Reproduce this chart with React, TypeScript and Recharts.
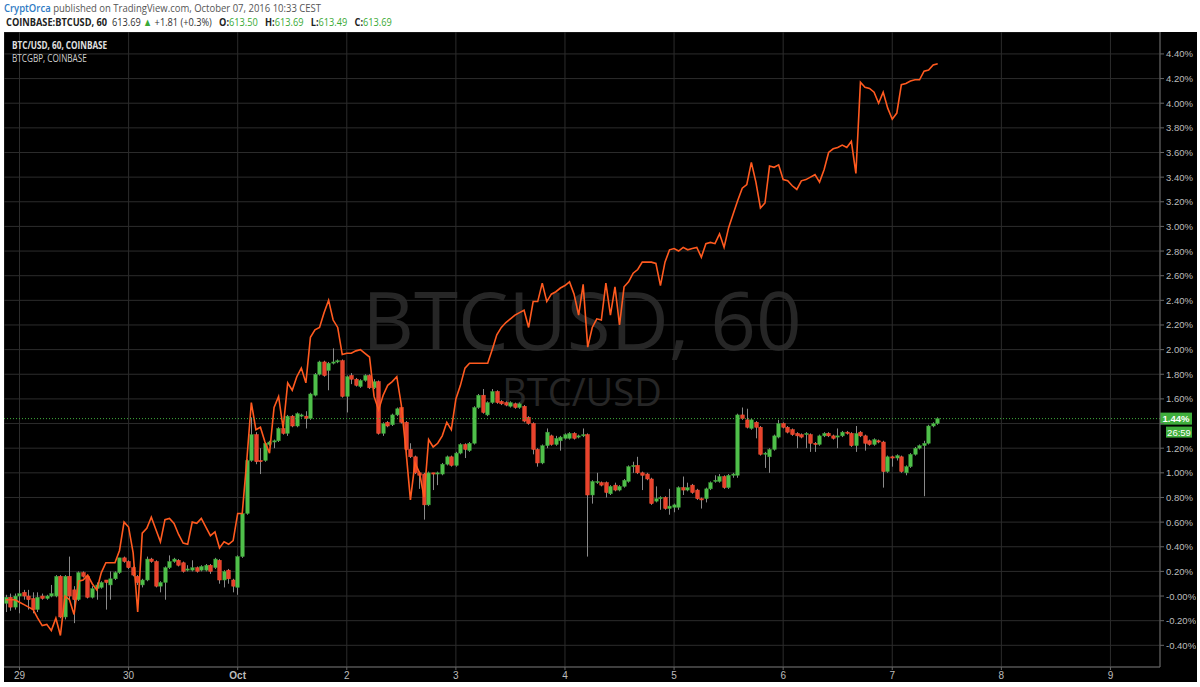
import React from "react";
import {
  ComposedChart, Bar, Line, XAxis, YAxis, CartesianGrid, ReferenceLine
} from "recharts";

// hourly candles, first one is Sep 28 21:00 (hour 0 = Sep 29 00:00)
const START_HOUR = -3;
const DAY_TICKS = [0, 24, 48, 72, 96, 120, 144, 168, 192, 216, 240];
const DAY_LABELS = ["29", "30", "Oct", "2", "3", "4", "5", "6", "7", "8", "9"];
const PCT_TICKS = [-0.4, -0.2, 0, 0.2, 0.4, 0.6, 0.8, 1.0, 1.2, 1.4, 1.6, 1.8, 2.0, 2.2, 2.4, 2.6, 2.8, 3.0, 3.2, 3.4, 3.6, 3.8, 4.0, 4.2, 4.4];
const LAST_PCT = 1.44;
const COUNTDOWN = "26:59";

// BTCUSD change in % : [open, close, high, low]
const CANDLES = [
  [-0.06, -0.01, 0.01, -0.13], [-0.01, -0.09, 0.02, -0.12], [-0.09, 0.0, 0.02, -0.11],
  [0.0, 0.02, 0.13, -0.14], [0.03, 0.0, 0.05, -0.03], [0.0, -0.03, 0.05, -0.11],
  [-0.02, -0.11, 0.03, -0.14], [-0.11, -0.01, 0.03, -0.13], [0.0, -0.02, 0.02, -0.03],
  [-0.02, 0.0, 0.01, -0.03], [0.0, 0.02, 0.09, -0.01], [0.0, 0.16, 0.17, -0.01],
  [0.16, -0.17, 0.17, -0.18], [-0.17, 0.16, 0.17, -0.19], [0.16, 0.0, 0.32, -0.03],
  [0.05, -0.03, 0.08, -0.22], [-0.03, 0.19, 0.2, -0.04], [0.19, 0.16, 0.2, 0.15],
  [0.16, -0.01, 0.17, -0.02], [-0.01, 0.06, 0.08, -0.02], [0.06, 0.09, 0.11, -0.03],
  [0.07, 0.11, 0.12, 0.06], [0.13, 0.11, 0.13, -0.11], [0.09, 0.14, 0.2, -0.03],
  [0.14, 0.19, 0.2, 0.13], [0.19, 0.31, 0.31, 0.18], [0.31, 0.28, 0.32, 0.27],
  [0.28, 0.23, 0.29, 0.22], [0.23, 0.17, 0.24, 0.16], [0.16, 0.11, 0.17, 0.09],
  [0.09, 0.13, 0.14, 0.07], [0.13, 0.3, 0.32, 0.12], [0.3, 0.28, 0.31, 0.27],
  [0.28, 0.08, 0.29, 0.07], [0.08, 0.11, 0.12, 0.03], [0.11, 0.23, 0.24, -0.03],
  [0.23, 0.28, 0.33, 0.22], [0.28, 0.3, 0.31, 0.27], [0.29, 0.25, 0.3, 0.24],
  [0.27, 0.2, 0.28, 0.19], [0.21, 0.22, 0.25, 0.2], [0.21, 0.23, 0.29, 0.2],
  [0.23, 0.2, 0.24, 0.19], [0.21, 0.24, 0.25, 0.2], [0.21, 0.25, 0.26, 0.2],
  [0.25, 0.2, 0.26, 0.18], [0.23, 0.3, 0.31, 0.22], [0.29, 0.13, 0.3, 0.1],
  [0.13, 0.2, 0.21, 0.07], [0.21, 0.14, 0.22, 0.1], [0.13, 0.08, 0.14, 0.03],
  // Oct 1
  [0.07, 0.32, 0.33, 0.01], [0.32, 0.67, 0.68, 0.31], [0.67, 1.1, 1.11, 0.66],
  [1.1, 1.31, 1.45, 1.09], [1.31, 1.09, 1.33, 1.07], [1.1, 1.09, 1.2, 0.99],
  [1.1, 1.24, 1.25, 1.09], [1.23, 1.25, 1.26, 1.22], [1.25, 1.26, 1.27, 1.2],
  [1.26, 1.36, 1.37, 1.25], [1.36, 1.32, 1.37, 1.31], [1.32, 1.46, 1.47, 1.3],
  [1.46, 1.38, 1.47, 1.37], [1.38, 1.48, 1.49, 1.37], [1.46, 1.47, 1.48, 1.45],
  [1.46, 1.44, 1.5, 1.36], [1.44, 1.64, 1.65, 1.43], [1.63, 1.8, 1.81, 1.62],
  [1.8, 1.9, 1.91, 1.79], [1.9, 1.79, 1.91, 1.78], [1.83, 1.89, 1.9, 1.67],
  [1.89, 1.9, 2.01, 1.88], [1.9, 1.91, 1.92, 1.89], [1.91, 1.62, 1.92, 1.61],
  [1.62, 1.78, 1.79, 1.49], [1.79, 1.76, 1.81, 1.72], [1.76, 1.71, 1.77, 1.7],
  [1.7, 1.75, 1.76, 1.69], [1.75, 1.79, 1.8, 1.74], [1.79, 1.69, 1.8, 1.68],
  [1.69, 1.74, 1.76, 1.68], [1.74, 1.32, 1.75, 1.31], [1.32, 1.4, 1.41, 1.3],
  [1.41, 1.38, 1.42, 1.37], [1.39, 1.47, 1.48, 1.38], [1.47, 1.52, 1.53, 1.46],
  [1.53, 1.41, 1.54, 1.4], [1.41, 1.19, 1.42, 1.18], [1.19, 1.13, 1.24, 1.12],
  [1.13, 1.0, 1.14, 0.99], [1.0, 0.98, 1.01, 0.87], [0.99, 0.74, 1.0, 0.62],
  [0.74, 1.0, 1.01, 0.73], [1.0, 0.99, 1.0, 0.86], [0.99, 1.0, 1.01, 0.9],
  [0.99, 1.07, 1.08, 0.98], [1.07, 1.13, 1.14, 1.06], [1.13, 1.06, 1.14, 1.05],
  [1.06, 1.16, 1.17, 1.05], [1.16, 1.23, 1.24, 1.15], [1.23, 1.19, 1.24, 1.12],
  [1.18, 1.24, 1.25, 1.17], [1.24, 1.53, 1.54, 1.23], [1.53, 1.63, 1.64, 1.52],
  [1.63, 1.49, 1.68, 1.48], [1.47, 1.57, 1.58, 1.46], [1.57, 1.66, 1.68, 1.56],
  [1.66, 1.57, 1.67, 1.56], [1.58, 1.56, 1.59, 1.55], [1.57, 1.55, 1.58, 1.54],
  [1.54, 1.57, 1.58, 1.53], [1.56, 1.53, 1.57, 1.52], [1.53, 1.56, 1.57, 1.52],
  [1.54, 1.42, 1.55, 1.41], [1.45, 1.4, 1.46, 1.39], [1.4, 1.19, 1.41, 1.15],
  [1.19, 1.08, 1.2, 1.05], [1.08, 1.22, 1.23, 1.07], [1.22, 1.33, 1.36, 1.2],
  [1.3, 1.23, 1.31, 1.22], [1.23, 1.28, 1.3, 1.22], [1.26, 1.29, 1.3, 1.18],
  [1.28, 1.31, 1.32, 1.27], [1.28, 1.32, 1.33, 1.27], [1.32, 1.28, 1.33, 1.27],
  [1.29, 1.3, 1.31, 1.28], [1.3, 1.31, 1.36, 1.29], [1.31, 0.82, 1.32, 0.32],
  [0.82, 0.93, 0.94, 0.75], [0.92, 0.93, 1.0, 0.91], [0.92, 0.9, 0.93, 0.89],
  [0.92, 0.84, 0.93, 0.8], [0.83, 0.89, 0.9, 0.82], [0.9, 0.86, 0.92, 0.85],
  [0.86, 0.89, 0.9, 0.85], [0.89, 0.94, 0.95, 0.88], [0.93, 1.05, 1.06, 0.92],
  [1.05, 1.06, 1.09, 1.0], [1.06, 1.0, 1.13, 0.99], [1.0, 0.98, 1.01, 0.86],
  [0.99, 0.95, 1.0, 0.94], [0.95, 0.75, 0.96, 0.74], [0.77, 0.79, 0.89, 0.76],
  [0.79, 0.8, 0.81, 0.7], [0.8, 0.71, 0.81, 0.7], [0.71, 0.73, 0.87, 0.66],
  [0.72, 0.74, 0.75, 0.68], [0.72, 0.88, 0.89, 0.7], [0.88, 0.86, 0.97, 0.82],
  [0.86, 0.88, 0.92, 0.85], [0.9, 0.84, 0.91, 0.83], [0.86, 0.79, 0.87, 0.78],
  [0.79, 0.78, 0.8, 0.71], [0.79, 0.87, 0.88, 0.76], [0.87, 0.92, 0.93, 0.86],
  [0.93, 0.94, 0.98, 0.92], [0.93, 0.97, 0.99, 0.92], [0.97, 0.88, 0.98, 0.87],
  [0.88, 0.98, 0.99, 0.87], [0.98, 0.99, 1.0, 0.96], [0.98, 1.47, 1.48, 0.96],
  [1.47, 1.44, 1.53, 1.43], [1.43, 1.37, 1.52, 1.36], [1.36, 1.43, 1.44, 1.35],
  [1.41, 1.37, 1.42, 1.28], [1.37, 1.15, 1.38, 1.14], [1.15, 1.16, 1.17, 1.04],
  [1.13, 1.19, 1.2, 1.0], [1.19, 1.3, 1.31, 1.18], [1.29, 1.4, 1.43, 1.28],
  [1.4, 1.37, 1.41, 1.36], [1.37, 1.33, 1.38, 1.32], [1.35, 1.31, 1.36, 1.3],
  [1.32, 1.3, 1.33, 1.2], [1.31, 1.29, 1.32, 1.28], [1.31, 1.32, 1.33, 1.2],
  [1.31, 1.24, 1.32, 1.17], [1.24, 1.23, 1.25, 1.17], [1.23, 1.3, 1.31, 1.22],
  [1.3, 1.32, 1.33, 1.29], [1.32, 1.3, 1.33, 1.29], [1.3, 1.28, 1.31, 1.27],
  [1.29, 1.3, 1.36, 1.2], [1.3, 1.33, 1.34, 1.29], [1.33, 1.32, 1.34, 1.31],
  [1.32, 1.22, 1.33, 1.21], [1.22, 1.32, 1.38, 1.17], [1.33, 1.3, 1.34, 1.29],
  [1.3, 1.24, 1.31, 1.18], [1.26, 1.23, 1.27, 1.22], [1.23, 1.27, 1.28, 1.22],
  [1.26, 1.25, 1.27, 1.24], [1.25, 1.01, 1.26, 0.88], [1.01, 1.13, 1.14, 1.0],
  [1.13, 1.12, 1.14, 1.05], [1.12, 1.14, 1.15, 1.1], [1.13, 1.01, 1.14, 1.0],
  [1.0, 1.05, 1.06, 0.98], [1.05, 1.15, 1.16, 1.04], [1.15, 1.2, 1.21, 1.14],
  [1.2, 1.22, 1.23, 1.19], [1.22, 1.24, 1.26, 0.81], [1.24, 1.38, 1.39, 1.23],
  [1.38, 1.4, 1.41, 1.37], [1.4, 1.44, 1.45, 1.39],
];

// BTCGBP change in %, same hours
const GBP = [
  -0.03, -0.03, -0.03, -0.05, -0.07, -0.09, -0.11, -0.18, -0.24, -0.23,
  -0.28, -0.18, -0.32, 0.0, -0.03, -0.15, 0.12, 0.13, 0.17, 0.1,
  0.05, 0.19, 0.27, 0.27, 0.27, 0.37, 0.6, 0.56, 0.35, -0.13,
  0.51, 0.55, 0.64, 0.54, 0.44, 0.62, 0.63, 0.59, 0.5, 0.43,
  0.42, 0.6, 0.59, 0.63, 0.56, 0.49, 0.52, 0.39, 0.44, 0.42,
  0.45, 0.67, 0.67, 1.1, 1.57, 1.35, 1.37, 1.25, 1.16, 1.53,
  1.62, 1.36, 1.73, 1.67, 1.78, 1.85, 1.73, 2.1, 2.16, 2.18,
  2.3, 2.4, 2.24, 2.18, 1.96, 1.97, 1.97, 1.99, 2.0, 1.97,
  1.94, 1.62, 1.51, 1.63, 1.71, 1.74, 1.78, 1.55, 1.19, 0.78,
  1.08, 1.0, 0.8, 1.27, 1.21, 1.24, 1.3, 1.41, 1.35, 1.6,
  1.71, 1.85, 1.89, 1.89, 1.89, 1.89, 1.89, 2.0, 2.12, 2.18,
  2.22, 2.25, 2.28, 2.3, 2.32, 2.18, 2.39, 2.39, 2.54, 2.39,
  2.45, 2.47, 2.5, 2.52, 2.55, 2.45, 2.28, 2.53, 2.02, 2.18,
  2.25, 2.24, 2.54, 2.28, 2.51, 2.2, 2.51, 2.55, 2.62, 2.65,
  2.71, 2.71, 2.71, 2.7, 2.52, 2.71, 2.81, 2.82, 2.8, 2.83,
  2.81, 2.82, 2.83, 2.75, 2.86, 2.87, 2.86, 2.94, 2.83, 2.99,
  3.1, 3.21, 3.31, 3.34, 3.52, 3.36, 3.15, 3.19, 3.49, 3.48,
  3.5, 3.38, 3.37, 3.33, 3.3, 3.37, 3.38, 3.4, 3.42, 3.36,
  3.46, 3.6, 3.63, 3.64, 3.66, 3.64, 3.69, 3.43, 4.17, 4.13,
  4.12, 4.09, 4.0, 4.09, 3.96, 3.87, 3.92, 4.15, 4.16, 4.18,
  4.19, 4.19, 4.26, 4.27, 4.31, 4.32,
];

const UP = "#4fbf4a";
const DOWN = "#e8432d";
const WICK = "#8a8a8a";
const GBP_COLOR = "#ff5a1f";
const TAG = "#3fae3c";
const QUOTE_GREEN = "#3aaa35";
const AXIS_TEXT = "#bdbdbd";

const rows = CANDLES.map(([o, c, hi, lo], i) => ({
  t: START_HOUR + i,
  o,
  c,
  range: [Math.min(lo, o, c), Math.max(hi, o, c)],
  gbp: GBP[i],
}));

function Candle(props: any) {
  const { x, y, width, height, payload } = props;
  if (x == null || y == null) return null;
  const [lo, hi] = payload.range;
  const span = hi - lo || 1;
  const toY = (v: number) => y + ((hi - v) / span) * height;
  const cx = Math.round(x + width / 2) + 0.5;
  const up = payload.c >= payload.o;
  const top = toY(Math.max(payload.o, payload.c));
  const bot = toY(Math.min(payload.o, payload.c));
  return (
    <g>
      <line x1={cx} x2={cx} y1={y} y2={y + height} stroke={WICK} strokeWidth={1} />
      <rect
        x={cx - 1.75}
        y={top}
        width={3.5}
        height={Math.max(1, bot - top)}
        fill={up ? UP : DOWN}
        stroke={up ? "#3a9a36" : "#ff5533"}
        strokeWidth={0.5}
      />
    </g>
  );
}

function PctTick(props: any) {
  const { x, y, payload } = props;
  const v = payload.value;
  if (Math.abs(v - LAST_PCT) < 0.08) return null;
  const label = (v === 0 ? "-0.00" : v.toFixed(2)) + "%";
  return (
    <text x={x} y={y} dy={3.5} fill={AXIS_TEXT} fontSize={9.5}
      fontFamily="'Liberation Sans', Arial, sans-serif">
      {label}
    </text>
  );
}

function DayTick(props: any) {
  const { x, y, payload } = props;
  const label = DAY_LABELS[DAY_TICKS.indexOf(payload.value)];
  return (
    <text x={x} y={y} dy={8} textAnchor="middle" fill={AXIS_TEXT} fontSize={10}
      fontWeight={label === "Oct" ? "bold" : "normal"}
      fontFamily="'Liberation Sans', Arial, sans-serif">
      {label}
    </text>
  );
}

function PriceTag(props: any) {
  const { viewBox } = props;
  if (!viewBox) return null;
  const right = viewBox.x + viewBox.width;
  const y = viewBox.y;
  return (
    <g fontFamily="'Liberation Sans', Arial, sans-serif" fontSize={9.5} fontWeight="bold">
      <rect x={right} y={y - 6} width={32} height={12} fill={TAG} />
      <text x={right + 16} y={y + 3.5} textAnchor="middle" fill="#fff">{LAST_PCT.toFixed(2)}%</text>
      <rect x={right + 6} y={y + 8} width={26} height={11} fill={TAG} />
      <text x={right + 19} y={y + 17} textAnchor="middle" fill="#fff" fontWeight="normal">{COUNTDOWN}</text>
    </g>
  );
}

export default function App() {
  return (
    <div style={{ position: "relative", width: 1200, height: 687, background: "#fff", overflow: "hidden" }}>
      <style>{`body{margin:0}`}</style>

      {/* header, squeezed horizontally like the screenshot */}
      <svg width={1200} height={32} style={{ position: "absolute", left: 0, top: 0 }}
        fontFamily="'Open Sans', sans-serif" fontSize={11}>
        <g transform="translate(4,0) scale(0.865,1)">
          <text x={0} y={12} fill="#555">
            <tspan fill="#2f7bc4" fontWeight="600">CryptOrca</tspan>
            <tspan> published on TradingView.com, October 07, 2016 10:33 CEST</tspan>
          </text>
        </g>
        <g transform="translate(6,0) scale(0.84,1)">
          <text x={0} y={26} fill="#333" style={{ whiteSpace: "pre" }}>
            <tspan fontWeight="bold" fill="#222">COINBASE:BTCUSD, 60</tspan>
            <tspan>  613.69 </tspan>
            <tspan fill={QUOTE_GREEN}>▲</tspan>
            <tspan> +1.81 (+0.3%)   </tspan>
            <tspan fontWeight="bold" fill="#222">O:</tspan>
            <tspan fill={QUOTE_GREEN}>613.50   </tspan>
            <tspan fontWeight="bold" fill="#222">H:</tspan>
            <tspan fill={QUOTE_GREEN}>613.69   </tspan>
            <tspan fontWeight="bold" fill="#222">L:</tspan>
            <tspan fill={QUOTE_GREEN}>613.49   </tspan>
            <tspan fontWeight="bold" fill="#222">C:</tspan>
            <tspan fill={QUOTE_GREEN}>613.69</tspan>
          </text>
        </g>
      </svg>

      {/* chart panel */}
      <div style={{ position: "absolute", left: 4, top: 32, width: 1193, height: 650, background: "#000" }} />

      {/* watermark */}
      <svg width={1200} height={687} style={{ position: "absolute", left: 0, top: 0 }}
        fontFamily="'Open Sans', sans-serif">
        <text x={582} y={350} textAnchor="middle" fontSize={80} fill="#262626">BTCUSD, 60</text>
        <text x={582} y={406} textAnchor="middle" fontSize={38} fill="#262626">BTC/USD</text>
      </svg>

      <div style={{ position: "absolute", left: 4, top: 32 }}>
        <ComposedChart width={1192} height={650} data={rows}
          margin={{ top: 0, right: 0, bottom: 0, left: 0 }}>
          <CartesianGrid stroke="#2c2c2c" />
          <XAxis
            dataKey="t"
            type="number"
            domain={[-3.41, 250.9]}
            allowDataOverflow
            ticks={DAY_TICKS}
            interval={0}
            height={15}
            stroke="#666"
            tickSize={3}
            tickMargin={1}
            tick={<DayTick />}
          />
          <YAxis
            orientation="right"
            domain={[-0.576, 4.578]}
            allowDataOverflow
            ticks={PCT_TICKS}
            interval={0}
            width={36}
            stroke="#666"
            tickSize={4}
            tickMargin={2}
            tick={<PctTick />}
          />
          <Bar dataKey="range" barSize={4} shape={<Candle />} isAnimationActive={false} />
          <Line
            dataKey="gbp"
            type="linear"
            stroke={GBP_COLOR}
            strokeWidth={1.6}
            dot={false}
            activeDot={false}
            isAnimationActive={false}
          />
          <ReferenceLine y={LAST_PCT} stroke={TAG} strokeDasharray="1 2" label={<PriceTag />} />
        </ComposedChart>
      </div>

      {/* legend */}
      <svg width={300} height={70} style={{ position: "absolute", left: 0, top: 0 }}
        fontFamily="'Open Sans', sans-serif" fontSize={10}>
        <g transform="translate(12,0) scale(0.82,1)">
          <text x={0} y={49} fontWeight="bold" fill="#e0e0e0">BTC/USD, 60, COINBASE</text>
          <text x={0} y={62} fill="#cfcfcf">BTCGBP, COINBASE</text>
        </g>
      </svg>
    </div>
  );
}
